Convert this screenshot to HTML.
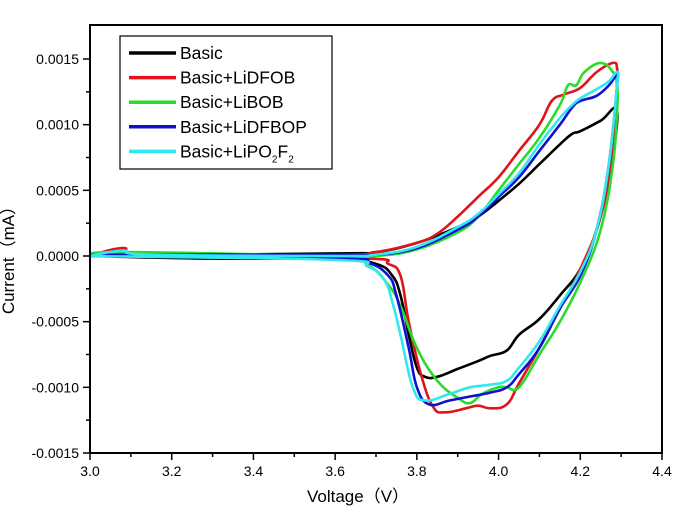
<!DOCTYPE html>
<html><head><meta charset="utf-8"><style>
body{margin:0;background:#fff;width:681px;height:513px;overflow:hidden}
svg{font-family:"Liberation Sans",Arial,sans-serif}
</style></head><body>
<svg id="chart" width="681" height="513"></svg>
<script>
const seriesNames=["Basic","Basic+LiDFOB","Basic+LiBOB","Basic+LiDFBOP","Basic+LiPO2F2"];
const seriesColors=["#000000","#e0141a","#2adc2a","#1010d0","#30e8f0"];
const xTicks=[3.0,3.2,3.4,3.6,3.8,4.0,4.2,4.4];
const yTicks=[-0.0015,-0.0010,-0.0005,0.0000,0.0005,0.0010,0.0015];
const basicV=[3.0,3.6,3.7,3.8,3.9,3.95,4.0,4.05,4.1,4.15,4.18,4.2,4.25,4.29,4.27,4.24,4.2,4.15,4.1,4.05,4.02,3.98,3.95,3.9,3.85,3.82,3.8,3.78,3.76,3.74,3.7,3.6,3.3,3.0];
const basicI=[0,0.00002,0.00003,0.0001,0.00022,0.0003,0.00042,0.00055,0.0007,0.00085,0.00093,0.00095,0.00103,0.0011,0.0006,0.0002,-0.0001,-0.0003,-0.00048,-0.0006,-0.00072,-0.00076,-0.0008,-0.00086,-0.00092,-0.00092,-0.00085,-0.0006,-0.0003,-0.00015,-0.00006,-0.00002,-0.00002,0];
const dfobV=[3.0,3.08,3.15,3.6,3.7,3.8,3.85,3.9,3.95,4.0,4.05,4.1,4.13,4.16,4.2,4.24,4.28,4.29,4.29,4.28,4.25,4.2,4.15,4.1,4.05,4.02,3.98,3.95,3.92,3.87,3.84,3.81,3.78,3.76,3.73,3.68,3.3,3.0];
const dfobI=[0,0.00006,0.00001,0.00001,0.00003,0.0001,0.00017,0.0003,0.00045,0.0006,0.0008,0.001,0.00118,0.00123,0.00128,0.0014,0.00147,0.00143,0.0013,0.0008,0.0003,-0.0001,-0.0004,-0.0007,-0.00097,-0.00113,-0.00116,-0.00114,-0.00116,-0.00119,-0.00115,-0.0009,-0.0005,-0.00015,-0.00006,-0.00002,-0.00001,0];
const bobV=[3.0,3.08,3.6,3.7,3.8,3.9,3.95,4.0,4.05,4.1,4.15,4.17,4.19,4.21,4.25,4.28,4.29,4.29,4.28,4.25,4.2,4.15,4.1,4.05,4.02,4.0,3.96,3.93,3.9,3.85,3.8,3.76,3.73,3.68,3.6,3.0];
const bobI=[0,0.00003,0,0,0.00005,0.00018,0.0003,0.0005,0.0007,0.0009,0.00115,0.0013,0.0013,0.0014,0.00147,0.0014,0.0013,0.0011,0.0007,0.0002,-0.0002,-0.0005,-0.00075,-0.001,-0.001,-0.001,-0.00105,-0.00112,-0.00108,-0.00095,-0.0007,-0.00038,-0.00022,-0.00007,-0.00002,0];
const dfbopV=[3.0,3.08,3.6,3.7,3.8,3.9,3.95,4.0,4.05,4.1,4.15,4.18,4.2,4.24,4.27,4.29,4.29,4.27,4.24,4.2,4.15,4.1,4.05,4.02,3.98,3.93,3.88,3.83,3.8,3.78,3.75,3.73,3.68,3.6,3.0];
const dfbopI=[0,0.00001,0.00001,0.00001,0.00006,0.0002,0.0003,0.00045,0.0006,0.0008,0.001,0.00113,0.00118,0.00122,0.0013,0.00138,0.0013,0.0007,0.0002,-0.00015,-0.0004,-0.0007,-0.0009,-0.001,-0.00104,-0.00107,-0.0011,-0.00113,-0.001,-0.0007,-0.0003,-0.00015,-0.00005,-0.00002,0];
const po2f2V=[3.0,3.08,3.15,3.6,3.7,3.8,3.9,3.95,4.0,4.05,4.1,4.15,4.18,4.2,4.24,4.27,4.29,4.29,4.27,4.24,4.2,4.15,4.1,4.05,4.02,3.98,3.93,3.88,3.82,3.79,3.76,3.74,3.72,3.68,3.6,3.0];
const po2f2I=[0,0.00004,0.00001,0,0.00001,0.00007,0.00022,0.00032,0.00047,0.00063,0.00085,0.00105,0.00115,0.0012,0.00127,0.00133,0.0014,0.0013,0.0007,0.0002,-0.00012,-0.00038,-0.00065,-0.00085,-0.00095,-0.00098,-0.001,-0.00105,-0.0011,-0.001,-0.0006,-0.00035,-0.00018,-0.00008,-0.00003,0];
const allV=[basicV,dfobV,bobV,dfbopV,po2f2V];
const allI=[basicI,dfobI,bobI,dfbopI,po2f2I];

const L=90,R=662,T=25,B=453;
const xs=v=>L+(v-3.0)/1.4*(R-L);
const ys=i=>256-i/0.0015*(256-59);
const NS="http://www.w3.org/2000/svg";
const svg=document.getElementById('chart');
function mk(tag,attrs,parent){const e=document.createElementNS(NS,tag);for(const k in attrs)e.setAttribute(k,attrs[k]);(parent||svg).appendChild(e);return e;}
function smooth(pts){
  let d='M'+pts[0][0].toFixed(1)+','+pts[0][1].toFixed(1);
  for(let i=0;i<pts.length-1;i++){
    const p0=pts[Math.max(0,i-1)],p1=pts[i],p2=pts[i+1],p3=pts[Math.min(pts.length-1,i+2)];
    const t=0.2;
    const c1=[p1[0]+(p2[0]-p0[0])*t,p1[1]+(p2[1]-p0[1])*t];
    const c2=[p2[0]-(p3[0]-p1[0])*t,p2[1]-(p3[1]-p1[1])*t];
    d+=' C'+c1[0].toFixed(1)+','+c1[1].toFixed(1)+' '+c2[0].toFixed(1)+','+c2[1].toFixed(1)+' '+p2[0].toFixed(1)+','+p2[1].toFixed(1);
  }
  return d;
}

const gS=mk('g',{});


for(let s=0;s<allV.length;s++){
  const pts=allV[s].map((v,k)=>[xs(v),ys(allI[s][k])]);
  const p=mk('path',{d:smooth(pts),fill:'none',stroke:seriesColors[s],'stroke-width':2.6,'stroke-linejoin':'round','stroke-linecap':'round'},gS);
  
  
}
const fr=mk('rect',{x:L,y:T,width:R-L,height:B-T,fill:'none',stroke:'#000','stroke-width':2});


for(let k=0;k<=14;k++){
  const v=3.0+k*0.1,x=xs(v),maj=k%2==0;
  mk('line',{x1:x,x2:x,y1:B,y2:B+(maj?7:4),stroke:'#000','stroke-width':1.5});
}
xTicks.forEach(v=>{
  const t=mk('text',{x:xs(v),y:B+23,'text-anchor':'middle','font-size':14,fill:'#000'});
  t.textContent=v.toFixed(1);
  
  
});
for(let k=0;k<=12;k++){
  const v=-0.0015+k*0.00025,y=ys(v),maj=k%2==0;
  mk('line',{x1:L,x2:L-(maj?7:4),y1:y,y2:y,stroke:'#000','stroke-width':1.5});
}
yTicks.forEach(v=>{
  const t=mk('text',{x:L-11,y:ys(v)+5,'text-anchor':'end','font-size':14,fill:'#000'});
  t.textContent=v.toFixed(4);
  
  
});
const xt=mk('text',{x:358,y:502,'text-anchor':'middle','font-size':17,fill:'#000'});
xt.textContent='Voltage（V）';


const yt=mk('text',{x:0,y:0,transform:'translate(14,256) rotate(-90)','text-anchor':'middle','font-size':17,fill:'#000'});
yt.textContent='Current（mA）';


const lg=mk('g',{});


mk('rect',{x:120,y:36,width:212,height:133,fill:'#fff',stroke:'#000','stroke-width':1.2},lg);
seriesNames.forEach((n,s)=>{
  const y=53+s*24.6;
  const e=mk('g',{},lg);
  
  
  mk('line',{x1:129,x2:176,y1:y,y2:y,stroke:seriesColors[s],'stroke-width':3.5},e);
  const t=mk('text',{x:180,y:y+6,'font-size':17.5,fill:'#000'},e);
  if(n==='Basic+LiPO2F2'){
    t.innerHTML='Basic+LiPO<tspan font-size="10" dy="5">2</tspan><tspan dy="-5">F</tspan><tspan font-size="10" dy="5">2</tspan>';
  } else t.textContent=n;
});
</script>
</body></html>
